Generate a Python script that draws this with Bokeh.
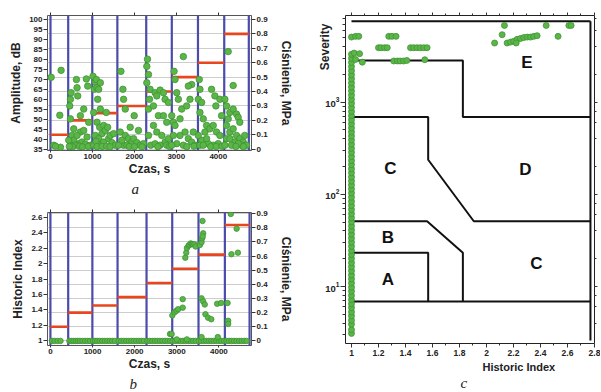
from bokeh.plotting import figure
from bokeh.models import Range1d, LinearAxis, FixedTicker, LogTicker, BasicTickFormatter, Grid, Title
from bokeh.layouts import row, column
from bokeh.embed import file_html
from bokeh.resources import INLINE

# ---------------- data ----------------
# loading stages (time, s) and pressure level of each stage (MPa)
stage_edges = [0, 422, 996, 1594, 2282, 2892, 3516, 4142, 4728]
pressure_a = [0.10, 0.20, 0.25, 0.30, 0.40, 0.50, 0.60, 0.80]
pressure_b = [0.10, 0.20, 0.25, 0.31, 0.41, 0.51, 0.61, 0.82]

time_ticks = [0, 1000, 2000, 3000, 4000]
amp_ticks = [35, 40, 45, 50, 55, 60, 65, 70, 75, 80, 85, 90, 95, 100]
press_ticks = [0, 0.1, 0.2, 0.3, 0.4, 0.5, 0.6, 0.7, 0.8, 0.9]
hi_ticks_b = [1.0, 1.2, 1.4, 1.6, 1.8, 2.0, 2.2, 2.4, 2.6]
hi_ticks_c = [1.0, 1.2, 1.4, 1.6, 1.8, 2.0, 2.2, 2.4, 2.6, 2.8]
hi_minor_c = [1.1, 1.3, 1.5, 1.7, 1.9, 2.1, 2.3, 2.5, 2.7]

# (a) acoustic emission hits: (time s, amplitude dB)
hits_a = [
    (16, 71), (253, 74.5), (222, 52), (79, 37), (238, 36), (120, 36.5),
    (475, 60), (459, 56.7), (491, 63.3), (618, 69.9), (633, 65.8), (649, 61.7), (475, 50.2), (515, 41.9),
    (554, 39.5), (673, 37.8), (752, 38.6), (594, 37), (831, 37.5), (871, 41.1), (713, 43.6), (792, 44.4),
    (887, 66.6), (855, 70.2), (792, 55.1), (911, 48.5), (713, 51.8), (554, 45.2), (633, 41.9), (491, 37),
    (435, 39.5), (950, 37), (520, 36.2), (690, 36.5), (760, 36.2), (900, 36.4), (450, 36.4),
    (1013, 71.5), (1069, 68.6), (1045, 65), (1109, 65.8), (1093, 69.9), (1188, 68.3), (1148, 65), (1124, 60),
    (1029, 53.4), (1109, 48.5), (1172, 46), (1267, 46.9), (1227, 42.8), (1306, 44.4), (1362, 46), (1069, 41.9),
    (1148, 40.3), (1188, 37), (1267, 38.6), (1386, 40.3), (1425, 41.9), (1504, 42.8), (1465, 38.3), (1544, 37),
    (1029, 37), (1085, 39), (1330, 53.4), (1188, 55.1), (1110, 36.3), (1230, 36.4), (1340, 36.5), (1420, 36.2),
    (1679, 74), (1726, 65), (1742, 60), (1782, 55.1), (1663, 43.6), (1782, 41.9), (1861, 40.3), (1940, 38.6),
    (1742, 37), (1821, 37), (1900, 46), (1980, 40.3), (2059, 38.3), (2138, 37), (2217, 37.8), (1623, 37),
    (1702, 39.5), (1995, 51.8), (2098, 44.4), (1880, 36.4), (2000, 36.3), (2180, 36.2),
    (2312, 80.1), (2296, 76.5), (2336, 72.4), (2296, 68.3), (2375, 65), (2360, 60), (2336, 55.1), (2455, 56.7),
    (2494, 63.3), (2534, 61.7), (2613, 64.6), (2692, 63.3), (2732, 60), (2811, 58.4), (2573, 51.8), (2455, 46.9),
    (2534, 43.6), (2652, 41.9), (2732, 38.6), (2811, 40.3), (2336, 41.9), (2391, 37), (2494, 37.7), (2613, 37),
    (2771, 37), (2692, 51.8), (2771, 48.5), (2560, 36.3), (2840, 36.4),
    (2946, 74), (2969, 69.9), (3009, 63.3), (3048, 60), (2890, 51.8), (2930, 48.5), (2969, 46.9), (3088, 50.2),
    (3167, 81.4), (3128, 55.1), (3246, 56.7), (3326, 60), (3365, 67.4), (3286, 66.6), (3207, 43.6), (3286, 40.3),
    (3405, 43.6), (3365, 38.6), (3167, 37), (3009, 37.8), (2930, 41.9), (3088, 41.9), (3444, 37), (2890, 37),
    (3250, 36.3), (3420, 36.5),
    (3547, 69.9), (3563, 65), (3524, 60), (3603, 58.4), (3563, 53.4), (3642, 50.2), (3721, 46.9), (3682, 43.6),
    (3801, 45.2), (3880, 46.9), (3959, 43.6), (4038, 41.9), (3998, 37.8), (3880, 37), (3761, 37.8), (3603, 39.5),
    (3563, 37), (3524, 41.9), (3840, 65), (3919, 61.7), (3943, 56.7), (4038, 60), (4078, 51.8), (3721, 40.3),
    (3642, 37), (3820, 36.3), (3950, 36.4), (4090, 36.5),
    (4236, 83.9), (4355, 66.9), (4157, 60), (4197, 56.7), (4276, 53.4), (4355, 55.1), (4434, 52.6), (4474, 51),
    (4513, 48.5), (4236, 50.2), (4197, 46.9), (4276, 43.6), (4355, 45.2), (4434, 41.9), (4513, 40.3), (4593, 38.6),
    (4672, 37), (4553, 37), (4395, 38.6), (4315, 37), (4197, 40.3), (4157, 37), (4632, 41.9), (4276, 40.3),
    (4474, 37.8), (4600, 36.3), (4420, 36.4),
]

# (b) historic index vs time: points resting at the baseline value 1
hi_base_times = [40, 100, 170, 240, 450, 500, 550, 600, 650, 700, 760, 820, 880, 940, 1010, 1060, 1110,
                 1170, 1230, 1290, 1350, 1410, 1470, 1530, 1620, 1680, 1740, 1800, 1860, 1920, 1980, 2040,
                 2100, 2160, 2220, 2300, 2360, 2420, 2480, 2540, 2600, 2660, 2720, 2780, 2840, 2900, 2960,
                 3030, 3090, 3150, 3210, 3270, 3330, 3390, 3450, 3520, 3580, 3640, 3700, 3760, 3820, 3880,
                 3940, 4000, 4060, 4120, 4180, 4240, 4300, 4360, 4420, 4480, 4540, 4600, 4660]
hi_points_b = [
    (2840, 1.09), (2878, 1.09), (2894, 1.33), (2947, 1.37), (2994, 1.39), (3032, 1.41), (3141, 1.43),
    (3141, 1.54), (3000, 1.02), (3240, 1.02), (3202, 2.075), (3225, 2.14), (3241, 2.2), (3279, 2.23),
    (3300, 2.24), (3330, 2.26), (3356, 2.25), (3380, 2.25), (3418, 2.25), (3449, 2.22), (3549, 2.24),
    (3588, 2.275), (3603, 2.325), (3627, 2.39), (3615, 2.35), (3611, 2.55), (3588, 1.55), (3627, 1.51),
    (3665, 1.47), (3681, 1.345), (3743, 1.30), (3819, 1.28), (3958, 1.48), (4051, 1.49), (4206, 1.49),
    (4220, 1.26), (4220, 1.22), (4298, 2.12), (4452, 2.14), (4282, 2.64), (4421, 2.45), (3974, 1.05),
    (3588, 1.05),
]

# (c) severity vs historic index
sev_column = [3.1, 3.4, 3.9, 4.3, 4.8, 5.3, 5.9, 6.5, 7.2, 8.0, 8.9, 9.8, 10.9, 12.1, 13.3, 14.8, 16.4,
              18.1, 20.1, 22.2, 24.6, 27.3, 30.2, 33.4, 37.0, 41.0, 45.4, 50.3, 55.7, 61.7, 68.3, 75.6,
              83.8, 92.8, 103, 114, 126, 139, 154, 171, 189, 210, 232, 257, 285, 315, 349, 387, 428, 474,
              525, 582, 644, 713, 790, 875, 969, 1073, 1188, 1316, 1457, 1614, 1787, 1979, 2192, 2427,
              2688, 2977, 3297]
sev_points = [
    (1.02, 3400), (1.03, 2900), (1.06, 3350), (1.08, 2710), (1.0, 5070), (1.03, 5160), (1.054, 5160),
    (1.276, 5160), (1.30, 5160), (1.33, 5160),
    (1.20, 3890), (1.22, 3890), (1.245, 3890), (1.265, 3890),
    (1.437, 3890), (1.46, 3890), (1.485, 3890), (1.51, 3890), (1.535, 3890), (1.56, 3890),
    (1.313, 2790), (1.34, 2790), (1.36, 2790), (1.385, 2790), (1.41, 2830), (1.543, 2880),
    (2.06, 4370), (2.116, 5380), (2.133, 6780), (2.153, 4370), (2.178, 4470), (2.202, 4570),
    (2.227, 4790), (2.252, 4900), (2.276, 5010), (2.301, 5070), (2.326, 5070), (2.35, 5160),
    (2.375, 5250), (2.22, 4370), (2.442, 6780), (2.53, 5160), (2.61, 6780), (2.627, 6780),
]

# zone boundaries of the intensity chart (historic index, severity)
zone_lines = [
    [(1.0, 7550), (2.77, 7550)],
    [(2.77, 2.6), (2.77, 7550)],
    [(1.0, 2830), (1.825, 2830), (1.825, 690), (2.77, 690)],
    [(1.0, 690), (1.568, 690), (1.568, 237), (1.906, 51), (2.77, 51)],
    [(1.0, 51), (1.56, 51), (1.825, 23.2), (1.825, 6.87)],
    [(1.0, 23.2), (1.568, 23.2), (1.568, 6.87)],
    [(1.0, 6.87), (2.77, 6.87)],
]
zone_names = ["E", "C", "D", "B", "A", "C"]
zone_x = [2.30, 1.289, 2.289, 1.269, 1.269, 2.37]
zone_y = [2720, 190, 185, 33.6, 11.9, 17.9]

# ---------------- style ----------------
GREEN = "#5cb547"
GREEN_EDGE = "#3e9636"
BLUE = "#4b4bab"
RED = "#e8461e"
GRIDC = "#cdcdcd"
FONT = "Liberation Sans"
TXT = "#222222"


def style_axis(ax, tick_out=4, label_size="8px"):
    ax.axis_label_text_font = FONT
    ax.axis_label_text_font_style = "bold"
    ax.axis_label_text_font_size = "12px"
    ax.axis_label_text_color = TXT
    ax.major_label_text_font = FONT
    ax.major_label_text_font_style = "bold"
    ax.major_label_text_font_size = label_size
    ax.major_label_text_color = TXT
    ax.axis_line_color = None
    ax.major_tick_line_color = "#333333"
    ax.minor_tick_line_color = None
    ax.major_tick_out = tick_out
    ax.major_tick_in = 0
    ax.major_label_standoff = 1
    ax.axis_label_standoff = 3


def hidden_axis(ax):
    style_axis(ax, tick_out=3)
    ax.major_label_text_font_size = "1px"
    ax.major_label_text_color = None
    ax.major_label_standoff = 0
    ax.axis_label_standoff = 0


def sub_title(text, offset, standoff=0):
    return Title(text=text, align="left", offset=offset, standoff=standoff, text_font="Liberation Serif",
                 text_font_style="italic", text_font_size="15px", text_color=TXT)


def stage_plot(pr, width, height, xr, yr, pr_range, borders, ylabel, yticks, yoverrides,
               sublabel, sub_off):
    p = figure(width=width, height=height, x_range=Range1d(*xr), y_range=Range1d(*yr),
               output_backend="svg", toolbar_location=None,
               min_border_left=borders[0], min_border_right=borders[1],
               min_border_top=borders[2], min_border_bottom=borders[3])
    p.extra_y_ranges = {"p": Range1d(*pr_range)}
    p.grid.visible = False
    p.add_layout(Grid(dimension=1, ticker=FixedTicker(ticks=press_ticks), y_range_name="p",
                      grid_line_color=GRIDC, grid_line_width=1))
    p.outline_line_color = "#555555"

    p.xaxis.ticker = FixedTicker(ticks=time_ticks)
    p.xaxis.axis_label = "Czas, s"
    p.yaxis.ticker = FixedTicker(ticks=yticks)
    p.yaxis.axis_label = ylabel
    p.yaxis.major_label_overrides = yoverrides
    style_axis(p.xaxis[0], tick_out=2)
    p.xaxis.major_label_standoff = 1
    p.xaxis.axis_label_standoff = 0
    style_axis(p.yaxis[0])

    top = LinearAxis(ticker=FixedTicker(ticks=time_ticks))
    hidden_axis(top)
    p.add_layout(top, "above")

    right = LinearAxis(y_range_name="p", ticker=FixedTicker(ticks=press_ticks),
                       axis_label="Ciśnienie, MPa", major_label_overrides={0: "0"})
    style_axis(right)
    right.axis_label_standoff = 8
    p.add_layout(right, "right")

    p.segment(x0=stage_edges, x1=stage_edges, y0=yr[0] - 50, y1=yr[1] + 50,
              line_color=BLUE, line_width=2.2)
    p.segment(x0=stage_edges[:-1], x1=stage_edges[1:], y0=pr, y1=pr, y_range_name="p",
              line_color=RED, line_width=2.6)

    p.add_layout(sub_title(sublabel, sub_off), "below")
    return p


# ---------------- (a) ----------------
pa = stage_plot(pressure_a, 298, 196, (-71.5, 4792), (34.36, 101.97), (-0.0089, 0.9273),
                (47, 47, 15, 44), "Amplitude, dB", amp_ticks, {}, "a", 84)
pa.scatter([t for t, _ in hits_a], [a for _, a in hits_a], size=6.5,
           fill_color=GREEN, line_color=GREEN_EDGE, line_width=0.8)

# ---------------- (b) ----------------
pb = stage_plot(pressure_b, 298, 195, (-69.2, 4774), (0.941, 2.659), (-0.0323, 0.908),
                (47, 41, 16, 42), "Historic Index", hi_ticks_b, {1.0: "1", 2.0: "2"}, "b", 82)
pb.scatter(hi_base_times, [1.0] * len(hi_base_times), size=5.5,
           fill_color=GREEN, line_color=GREEN_EDGE, line_width=0.8)
pb.scatter([t for t, _ in hi_points_b], [h for _, h in hi_points_b], size=5.5,
           fill_color=GREEN, line_color=GREEN_EDGE, line_width=0.8)

# ---------------- (c) ----------------
pc = figure(width=302, height=391, x_range=Range1d(0.9556, 2.80), y_range=Range1d(2.41, 8690),
            y_axis_type="log", output_backend="svg", toolbar_location=None,
            min_border_left=47, min_border_right=6, min_border_top=15, min_border_bottom=48)
pc.grid.visible = False
pc.outline_line_color = "#222222"
pc.xaxis.ticker = FixedTicker(ticks=hi_ticks_c, minor_ticks=hi_minor_c)
pc.xaxis.major_label_overrides = {1.0: "1", 2.0: "2"}
style_axis(pc.xaxis[0], tick_out=4, label_size="8.5px")
pc.xaxis.minor_tick_line_color = "#333333"
pc.xaxis.minor_tick_out = 2
pc.xaxis.minor_tick_in = 0
pc.xaxis.major_label_standoff = 2
style_axis(pc.yaxis[0], tick_out=5, label_size="9.5px")
pc.yaxis.minor_tick_line_color = "#333333"
pc.yaxis.minor_tick_out = 3
pc.yaxis.minor_tick_in = 0

top_c = LinearAxis(ticker=FixedTicker(ticks=hi_ticks_c, minor_ticks=hi_minor_c))
hidden_axis(top_c)
top_c.minor_tick_line_color = "#333333"
top_c.minor_tick_out = 2
pc.add_layout(top_c, "above")
right_c = LinearAxis(ticker=LogTicker(), formatter=BasicTickFormatter())
hidden_axis(right_c)
right_c.minor_tick_line_color = "#333333"
right_c.minor_tick_out = 2
pc.add_layout(right_c, "right")

for xs_ys in zone_lines:
    pc.line([q[0] for q in xs_ys], [q[1] for q in xs_ys], line_color="#111111", line_width=2)

pc.scatter([1.0] * len(sev_column), sev_column, size=6,
           fill_color=GREEN, line_color=GREEN_EDGE, line_width=0.8)
pc.scatter([q[0] for q in sev_points], [q[1] for q in sev_points], size=6,
           fill_color=GREEN, line_color=GREEN_EDGE, line_width=0.8)

pc.text(x=zone_x, y=zone_y, text=zone_names, text_font_size="17px", text_font_style="bold",
        text_align="center", text_baseline="middle", text_color="#111111",
        text_font={"value": FONT})

pc.add_layout(Title(text="Severity", align="right", offset=8, standoff=-18, text_font=FONT,
                    text_font_style="bold", text_font_size="12px", text_color=TXT), "left")
pc.add_layout(Title(text="Historic Index", align="left", offset=137, standoff=0, text_font=FONT,
                    text_font_style="bold", text_font_size="11px", text_color=TXT), "below")
pc.add_layout(sub_title("c", 115), "below")

layout = row(column(pa, pb), pc)
open("out.html", "w").write(file_html(layout, INLINE))
